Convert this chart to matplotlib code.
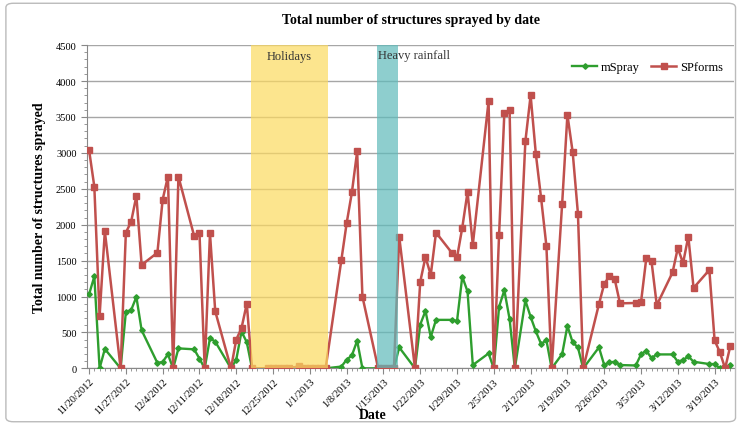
import matplotlib
matplotlib.use('Agg')
import matplotlib.pyplot as plt
import matplotlib.dates as mdates
from matplotlib.patches import FancyBboxPatch
from matplotlib.ticker import MultipleLocator
import numpy as np
import pandas as pd

plt.rcParams['font.family'] = ['Liberation Serif', 'DejaVu Serif']

# days counted from 11/20/2012
start = pd.Timestamp('2012-11-20')
day_offsets = [0, 1, 2, 3, 6, 7, 8, 9, 10, 13, 14, 15, 16, 17,
               20, 21, 22, 23, 24, 27, 28, 29, 30, 31,
               34, 35, 36, 37, 38, 40, 41, 42, 43, 44, 45,
               48, 49, 50, 51, 52, 55, 56, 57, 58, 59,
               62, 63, 64, 65, 66, 69, 70, 71, 72, 73,
               76, 77, 78, 79, 80, 81, 83, 84, 85, 86, 87, 88,
               90, 91, 92, 93, 94, 97, 98, 99, 100, 101,
               104, 105, 106, 107, 108, 111, 112, 113, 114, 115,
               118, 119, 120, 121, 122]

spforms = [3040, 2530, 725, 1910, 0, 1890, 2040, 2400, 1440, 1610, 2350, 2670, 0, 2670,
           1840, 1890, 0, 1880, 795, 0, 400, 560, 900, 0,
           0, 0, 0, 0, 0, 30, 0, 0, 0, 0, 0,
           1510, 2020, 2450, 3020, 1000, 0, 0, 0, 0, 1835,
           0, 1205, 1550, 1300, 1890, 1610, 1545, 1960, 2455, 1720,
           3720, 0, 1860, 3550, 3600, 0, 3160, 3800, 2980, 2365, 1705, 0,
           2295, 3530, 3010, 2155, 0, 895, 1175, 1285, 1240, 905,
           910, 920, 1530, 1490, 880, 1335, 1675, 1465, 1835, 1120,
           1370, 390, 225, 0, 315]

mspray = [1030, 1280, 0, 270, 0, 785, 810, 995, 530, 75, 90, 195, 0, 278,
          265, 135, 0, 420, 372, 0, 120, 512, 365, 0,
          0, 0, 0, 0, 0, 20, 0, 0, 0, 0, 0,
          25, 120, 180, 385, 0, 0, 0, 0, 0, 292,
          0, 610, 800, 437, 675, 675, 660, 1278, 1070, 46,
          208, 0, 856, 1088, 685, 0, 945, 717, 514, 338, 393, 0,
          199, 592, 361, 292, 0, 292, 46, 83, 92, 46,
          40, 194, 245, 143, 194, 194, 92, 115, 167, 92,
          60, 60, 0, 0, 46]

# shaded periods (start day, end day)
holidays = (30.85, 45.4)
rainfall = (54.7, 58.7)

dates = start + pd.to_timedelta(day_offsets, unit='D')
d = lambda x: start + pd.Timedelta(days=x)

fig = plt.figure(figsize=(7.37, 4.27), dpi=100)
ax = fig.add_axes([0.118, 0.135, 0.878, 0.757])

ax.plot(dates, mspray, color='#2E9E2E', lw=1.7, marker='D', ms=2.8, label='mSpray', zorder=3)
ax.plot(dates, spforms, color='#C0504D', lw=1.8, marker='s', ms=4, label='SPforms', zorder=3)

for (a, b), col in [(holidays, '#FCDA5F'), (rainfall, '#5EBABA')]:
    ax.fill_between([d(a), d(b)], 0, 4530, color=col, alpha=0.7, lw=0, zorder=4)

ax.text(d(38.1), 4350, 'Holidays', ha='center', va='center', fontsize=9, color='#333333', zorder=5)
ax.text(d(54.9), 4360, 'Heavy rainfall', ha='left', va='center', fontsize=9, color='#333333', zorder=5)

ax.set_ylim(0, 4500)
ax.set_xlim(d(-0.4), d(122.7))
ax.yaxis.set_major_locator(MultipleLocator(500))
ax.yaxis.set_minor_locator(MultipleLocator(100))
ax.grid(axis='y', color='#A6A6A6', lw=1.0, zorder=0)

week_ticks = pd.date_range(start, periods=18, freq='7D')
ax.set_xticks(week_ticks)
ax.xaxis.set_major_formatter(mdates.DateFormatter('%-m/%-d/%Y'))
ax.xaxis.set_minor_locator(mdates.DayLocator())
plt.setp(ax.get_xticklabels(), rotation=45, ha='right', rotation_mode='anchor')
ax.tick_params(axis='both', labelsize=7.5, color='#888888', length=4)
ax.tick_params(axis='x', pad=2)
ax.tick_params(axis='both', which='minor', color='#888888', length=2)

for s in ['top', 'right']:
    ax.spines[s].set_visible(False)
for s in ['left', 'bottom']:
    ax.spines[s].set_color('#888888')

ax.set_title('Total number of structures sprayed by date', fontsize=10, fontweight='bold', pad=16)
ax.set_ylabel('Total number of structures sprayed', fontsize=10, fontweight='bold', labelpad=7)
fig.text(0.505, 0.028, 'Date', ha='center', va='center', fontsize=10, fontweight='bold')

ax.legend(loc='center right', bbox_to_anchor=(1.0, 0.932), ncol=2, frameon=False,
          fontsize=9, handlelength=2.0, columnspacing=0.9, handletextpad=0.3)

border = FancyBboxPatch((0.008, 0.01), 0.99, 0.98, boxstyle='round,pad=0,rounding_size=0.01',
                        transform=fig.transFigure, fill=False, ec='#BBBBBB', lw=1.0)
fig.patches.append(border)

fig.savefig('out.png', dpi=100)
